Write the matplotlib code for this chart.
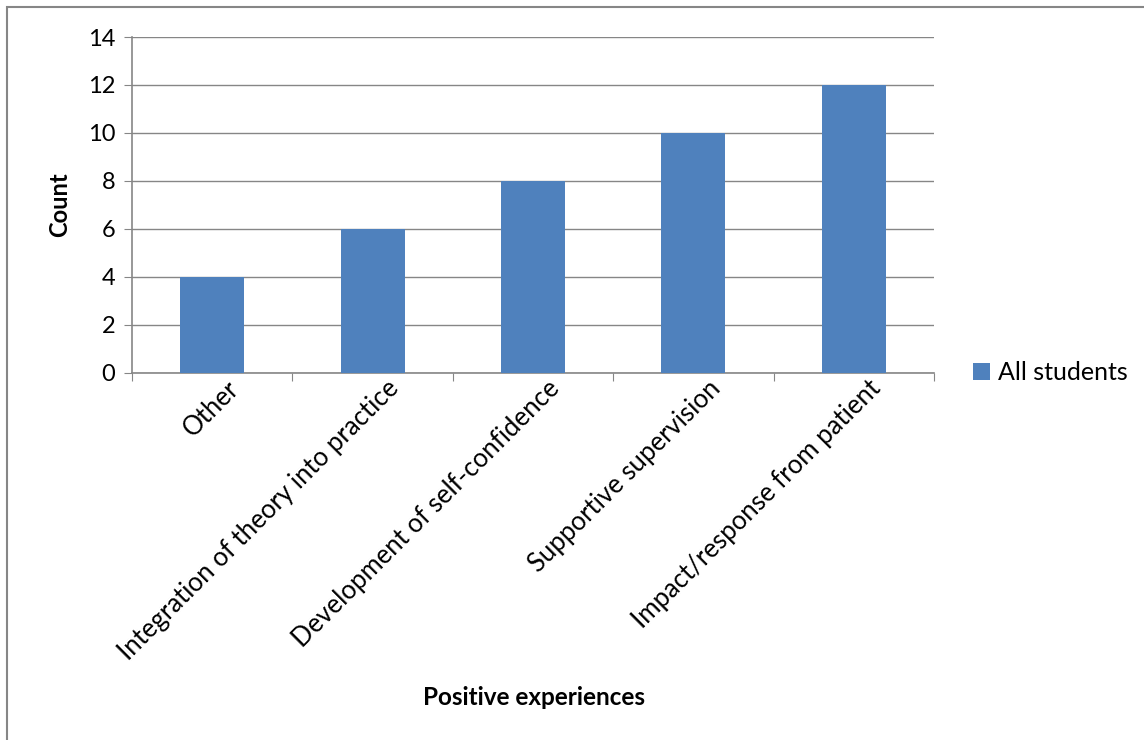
import matplotlib.pyplot as plt
import matplotlib.transforms as mtransforms
from matplotlib.patches import Rectangle

categories = ['Other', 'Integration of theory into practice', 'Development of self-confidence',
              'Supportive supervision', 'Impact/response from patient']
counts = [4, 6, 8, 10, 12]
series_name = 'All students'
y_ticks = [0, 2, 4, 6, 8, 10, 12, 14]

plt.rcParams['font.family'] = ['Lato', 'DejaVu Sans']

fig = plt.figure(figsize=(11.44, 7.4), dpi=100)
ax = fig.add_axes([0.1154, 0.496, 0.701, 0.454])

# outer chart border (only left/top visible in the reference)
fig.patches.append(Rectangle((0.006, -0.05), 1.2, 0.04 + 1.0, transform=fig.transFigure,
                             fill=False, edgecolor='#868686', linewidth=1.5))

x = list(range(len(categories)))
ax.bar(x, counts, width=0.4, color='#4F81BD', label=series_name, zorder=3)

ax.set_xlim(-0.5, len(categories) - 0.5)
ax.set_ylim(0, 14)
ax.set_yticks(y_ticks)
ax.yaxis.grid(True, color='#868686', linewidth=1)
ax.set_axisbelow(True)

ax.set_xticks([i - 0.5 for i in range(len(categories) + 1)], minor=False)
ax.set_xticklabels([''] * (len(categories) + 1))
ax.set_xticks(x, minor=True)
ax.set_xticklabels(categories, minor=True, rotation=45, ha='right', rotation_mode='anchor',
                   fontsize=18.5)
ax.tick_params(axis='x', which='minor', length=0, pad=2)
ax.tick_params(axis='x', which='major', length=6, color='#868686', direction='out')
ax.tick_params(axis='y', length=6, color='#868686', labelsize=17, pad=6)

# nudge rotated labels so their ends sit near the category centre
shift = mtransforms.ScaledTranslation(0.14, 0, fig.dpi_scale_trans)
for lbl in ax.get_xticklabels(minor=True):
    lbl.set_transform(lbl.get_transform() + shift)

for s in ['top', 'right']:
    ax.spines[s].set_visible(False)
for s in ['left', 'bottom']:
    ax.spines[s].set_color('#868686')
    ax.spines[s].set_linewidth(1.2)

ax.set_ylabel('Count', fontsize=17, fontweight='bold', labelpad=12)
fig.text(0.467, 0.047, 'Positive experiences', fontsize=17.5, fontweight='bold', ha='center')

ax.legend(loc='center left', bbox_to_anchor=(1.02, 0.0), frameon=False, fontsize=18,
          handlelength=0.7, handleheight=0.7, handletextpad=0.3)

fig.savefig('out.png', dpi=100)
